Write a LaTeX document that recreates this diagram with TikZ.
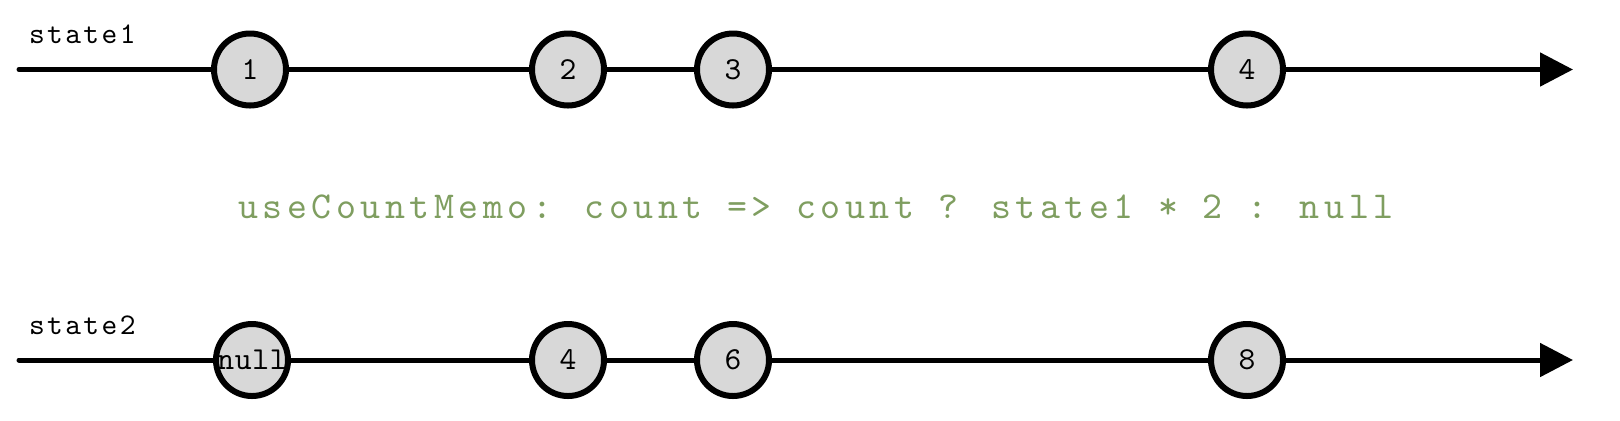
\documentclass[tikz,border=0pt]{standalone}
\usepackage{fontspec}
\newfontfamily\namemono{lmmono10-regular.otf}[LetterSpace=8]
\newfontfamily\marblemono{lmmono10-regular.otf}[LetterSpace=2]
\newfontfamily\memomono{lmmono10-regular.otf}[LetterSpace=12]
\usetikzlibrary{arrows.meta}
\definecolor{memogreen}{RGB}{127,158,96}
\definecolor{marblegray}{RGB}{216,216,216}

\begin{document}
\begin{tikzpicture}[x=1pt, y=1pt,
    marble/.style={circle, draw=black, line width=3pt, fill=marblegray, minimum size=36pt, inner sep=0pt, font=\marblemono\fontsize{16}{16}\selectfont},
    timeline/.style={line width=2.5pt, line cap=round, -{Triangle[length=16.5pt,width=16.5pt]}},
    streamname/.style={anchor=base west, font=\namemono\fontsize{15}{15}\selectfont}]
    \useasboundingbox (0,0) rectangle (810,-210);

    % state1
    \coordinate (s1start) at (9.5,-34.75);
    \coordinate (s1end) at (786.5,-34.75);
    \draw[timeline] (s1start) -- (s1end);
    \node[streamname] (s1name) at (11,-21.5) {state1};
    \node[marble] (s1a) at (125,-34.75) {1};
    \node[marble] (s1b) at (284,-34.75) {2};
    \node[marble] (s1c) at (366.5,-34.75) {3};
    \node[marble] (s1d) at (623.5,-34.75) {4};

    % operator
    \node[anchor=base west, text=memogreen, font=\memomono\fontsize{19}{19}\selectfont] (memo) at (115.5,-109) {useCountMemo: count => count ? state1 * 2 : null};

    % state2
    \coordinate (s2start) at (9.5,-180);
    \coordinate (s2end) at (786.5,-180);
    \draw[timeline] (s2start) -- (s2end);
    \node[streamname] (s2name) at (11,-167) {state2};
    \node[marble] (s2a) at (126,-180) {null};
    \node[marble] (s2b) at (284,-180) {4};
    \node[marble] (s2c) at (366.5,-180) {6};
    \node[marble] (s2d) at (623.5,-180) {8};
\end{tikzpicture}
\end{document}
